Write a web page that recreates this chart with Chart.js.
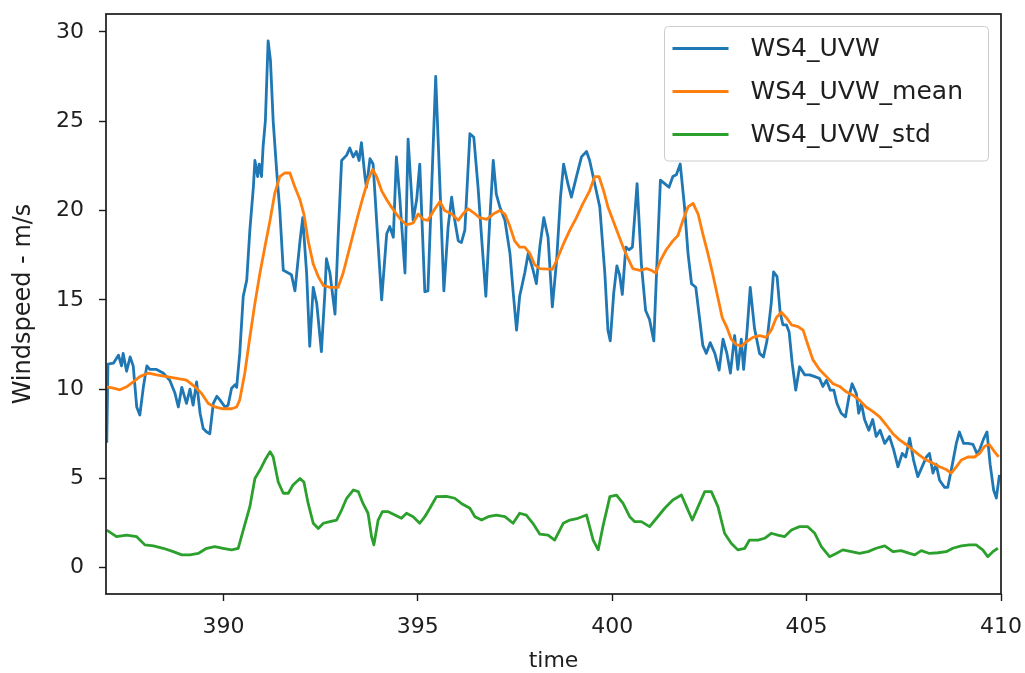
<!DOCTYPE html>
<html>
<head>
<meta charset="utf-8">
<script src="https://cdn.jsdelivr.net/npm/chart.js@4.4.0/dist/chart.umd.min.js"></script>
<style>
  html, body { margin: 0; padding: 0; background: #fff; }
  #wrap { width: 1025px; height: 673px; }
</style>
</head>
<body>
<div id="wrap"><canvas id="windChart" width="1025" height="673"></canvas></div>
<script>
// wind speed samples, [time, m/s]
const uvwSamples = [
  [387.00,7.0],[387.03,11.4],[387.17,11.45],[387.30,11.9],[387.38,11.3],[387.42,12.0],[387.51,11.0],[387.60,11.8],[387.68,11.3],[387.77,9.0],
  [387.85,8.55],[387.94,10.1],[388.03,11.3],[388.11,11.1],[388.28,11.1],[388.45,10.9],[388.62,10.5],[388.75,9.8],[388.84,9.0],[388.93,10.1],
  [389.05,9.2],[389.14,10.0],[389.22,9.1],[389.31,10.4],[389.40,8.65],[389.48,7.8],[389.57,7.6],[389.65,7.5],[389.74,9.2],[389.83,9.6],
  [389.91,9.4],[390.04,9.0],[390.12,9.1],[390.21,10.05],[390.30,10.25],[390.34,10.1],[390.42,12.0],[390.51,15.2],[390.60,16.1],[390.68,18.9],
  [390.77,21.3],[390.81,22.8],[390.88,21.9],[390.92,22.6],[390.98,21.9],[391.02,23.55],[391.08,25.05],[391.15,29.5],[391.21,28.4],[391.28,25.0],
  [391.37,22.2],[391.45,20.0],[391.54,16.65],[391.67,16.5],[391.75,16.4],[391.84,15.5],[391.97,18.3],[392.04,19.6],[392.14,16.5],[392.22,12.4],
  [392.31,15.7],[392.40,14.8],[392.52,12.1],[392.61,15.4],[392.65,17.3],[392.74,16.5],[392.87,14.2],[392.95,18.5],[393.04,22.8],[393.17,23.1],
  [393.25,23.5],[393.34,23.0],[393.42,23.3],[393.49,22.8],[393.55,23.8],[393.64,21.9],[393.68,21.3],[393.77,22.9],[393.85,22.6],[393.94,19.45],
  [394.07,15.0],[394.20,18.7],[394.28,19.1],[394.37,18.5],[394.45,23.0],[394.54,20.6],[394.67,16.5],[394.75,24.0],[394.88,19.45],[394.97,20.6],
  [395.05,22.6],[395.18,15.45],[395.26,15.5],[395.35,20.9],[395.46,27.5],[395.57,21.3],[395.67,15.5],[395.78,19.1],[395.87,20.75],[395.95,19.45],
  [396.04,18.3],[396.12,18.2],[396.21,18.9],[396.34,24.3],[396.44,24.1],[396.55,21.3],[396.64,18.5],[396.75,15.2],[396.85,19.45],[396.94,22.8],
  [397.02,20.9],[397.11,20.2],[397.24,19.45],[397.37,17.6],[397.45,15.5],[397.54,13.3],[397.62,15.2],[397.75,16.5],[397.84,17.6],[397.96,16.7],
  [398.05,15.9],[398.14,18.0],[398.24,19.6],[398.35,18.5],[398.46,14.6],[398.57,17.2],[398.67,20.75],[398.75,22.6],[398.86,21.5],[398.95,20.75],
  [399.08,21.9],[399.21,23.0],[399.34,23.3],[399.42,22.8],[399.55,21.5],[399.68,20.2],[399.81,16.5],[399.89,13.3],[399.95,12.7],[400.04,15.4],
  [400.12,16.9],[400.19,16.4],[400.26,15.3],[400.35,17.95],[400.43,17.8],[400.52,17.95],[400.64,21.5],[400.75,17.0],[400.86,14.4],[400.96,13.9],
  [401.07,12.7],[401.14,16.5],[401.24,21.7],[401.35,21.5],[401.46,21.3],[401.56,21.9],[401.65,22.0],[401.75,22.6],[401.86,20.2],[401.95,17.6],
  [402.04,15.9],[402.15,15.7],[402.25,13.9],[402.33,12.45],[402.42,12.0],[402.52,12.6],[402.64,12.0],[402.75,11.06],[402.85,12.8],[402.95,12.0],
  [403.04,10.9],[403.15,13.0],[403.23,11.1],[403.32,12.8],[403.38,11.1],[403.47,13.3],[403.55,15.7],[403.66,13.4],[403.79,12.0],[403.89,11.8],
  [403.98,12.7],[404.09,14.8],[404.15,16.56],[404.24,16.3],[404.32,14.3],[404.39,13.6],[404.48,13.6],[404.55,13.2],[404.63,11.44],[404.72,9.94],
  [404.82,11.25],[404.95,10.8],[405.08,10.8],[405.21,10.7],[405.33,10.6],[405.42,10.15],[405.51,10.5],[405.61,9.94],[405.70,9.94],[405.78,9.2],
  [405.89,8.65],[406.00,8.45],[406.09,9.57],[406.17,10.3],[406.28,9.75],[406.34,8.65],[406.41,9.2],[406.49,8.3],[406.60,7.7],[406.70,8.3],
  [406.79,7.35],[406.89,7.7],[407.01,6.96],[407.13,7.35],[407.24,6.6],[407.35,5.65],[407.46,6.4],[407.55,6.2],[407.65,7.25],[407.75,6.03],
  [407.86,5.1],[407.97,5.65],[408.08,6.2],[408.16,6.4],[408.25,5.3],[408.33,5.8],[408.42,4.9],[408.55,4.5],[408.63,4.5],[408.75,5.8],
  [408.85,6.96],[408.93,7.6],[409.04,6.96],[409.15,6.96],[409.28,6.9],[409.38,6.4],[409.45,6.6],[409.55,7.2],[409.64,7.6],[409.72,5.8],
  [409.81,4.35],[409.88,3.9],[409.96,5.2]
];

// rolling mean
const meanSamples = [
  [386.98,10.13],[387.17,10.05],[387.34,9.96],[387.51,10.13],[387.68,10.4],[387.85,10.7],[388.07,10.9],[388.28,10.8],[388.54,10.7],[388.80,10.6],
  [389.05,10.5],[389.27,10.13],[389.44,9.76],[389.61,9.2],[389.78,9.0],[389.99,8.9],[390.21,8.9],[390.34,9.0],[390.42,9.4],[390.55,10.9],
  [390.68,12.9],[390.81,14.8],[390.94,16.5],[391.07,18.0],[391.20,19.45],[391.32,20.95],[391.45,21.9],[391.58,22.1],[391.71,22.1],[391.84,21.3],
  [391.97,20.6],[392.07,19.8],[392.18,18.3],[392.31,17.0],[392.44,16.3],[392.57,15.8],[392.74,15.7],[392.95,15.7],[393.08,16.5],[393.21,17.6],
  [393.34,18.7],[393.47,19.8],[393.59,20.75],[393.72,21.7],[393.84,22.3],[393.94,21.9],[394.07,21.1],[394.20,20.6],[394.32,20.2],[394.45,19.8],
  [394.58,19.45],[394.71,19.2],[394.88,19.3],[395.01,19.8],[395.14,19.5],[395.26,19.45],[395.44,20.1],[395.57,20.5],[395.69,20.0],[395.87,19.8],
  [396.04,19.45],[396.16,19.8],[396.29,20.1],[396.42,19.9],[396.59,19.6],[396.77,19.5],[396.94,19.8],[397.11,20.0],[397.24,19.8],[397.37,19.1],
  [397.49,18.3],[397.62,17.95],[397.75,17.95],[397.88,17.6],[398.01,16.95],[398.14,16.75],[398.46,16.7],[398.57,17.2],[398.74,18.1],[398.91,18.9],
  [399.08,19.6],[399.25,20.4],[399.42,21.1],[399.55,21.9],[399.66,21.9],[399.78,21.1],[399.89,20.2],[400.02,19.45],[400.15,18.7],[400.28,17.95],
  [400.41,17.3],[400.53,16.75],[400.71,16.65],[400.88,16.75],[401.01,16.65],[401.12,16.5],[401.24,17.2],[401.39,17.8],[401.56,18.3],[401.69,18.6],
  [401.82,19.45],[401.95,20.2],[402.08,20.4],[402.21,19.8],[402.33,18.7],[402.46,17.6],[402.59,16.4],[402.72,15.1],[402.83,14.0],[402.94,13.5],
  [403.06,12.8],[403.19,12.5],[403.32,12.4],[403.45,12.65],[403.62,12.9],[403.79,13.0],[403.96,12.9],[404.09,13.3],[404.22,14.0],[404.35,14.3],
  [404.48,14.0],[404.61,13.6],[404.78,13.5],[404.91,13.3],[405.03,12.5],[405.16,11.65],[405.33,11.1],[405.51,10.7],[405.68,10.3],[405.85,10.15],
  [406.02,9.85],[406.19,9.66],[406.36,9.38],[406.53,9.0],[406.70,8.75],[406.88,8.45],[407.05,7.99],[407.22,7.5],[407.39,7.16],[407.56,6.9],
  [407.73,6.6],[407.90,6.3],[408.08,6.03],[408.25,5.85],[408.42,5.65],[408.59,5.5],[408.72,5.3],[408.85,5.65],[408.98,6.03],[409.15,6.2],
  [409.32,6.2],[409.45,6.4],[409.58,6.8],[409.70,6.9],[409.83,6.5],[409.94,6.2]
];

// rolling standard deviation
const stdSamples = [
  [387.00,2.11],[387.25,1.74],[387.51,1.83],[387.77,1.74],[387.98,1.28],[388.20,1.22],[388.45,1.09],[388.71,0.9],[388.93,0.72],[389.14,0.72],
  [389.35,0.8],[389.57,1.09],[389.78,1.18],[389.99,1.09],[390.21,1.0],[390.38,1.09],[390.51,2.11],[390.68,3.42],[390.81,5.0],[390.94,5.47],
  [391.07,6.03],[391.20,6.5],[391.28,6.2],[391.41,4.8],[391.54,4.17],[391.67,4.17],[391.79,4.63],[391.97,5.0],[392.07,4.8],[392.18,3.6],
  [392.31,2.49],[392.44,2.2],[392.57,2.49],[392.74,2.58],[392.91,2.67],[393.04,3.23],[393.17,3.89],[393.34,4.35],[393.47,4.26],[393.59,3.6],
  [393.72,3.05],[393.81,1.74],[393.87,1.28],[393.98,2.67],[394.09,3.14],[394.24,3.14],[394.41,2.95],[394.58,2.77],[394.71,3.05],[394.88,2.86],
  [395.05,2.49],[395.18,2.86],[395.31,3.33],[395.48,3.98],[395.74,4.0],[395.95,3.89],[396.12,3.6],[396.34,3.33],[396.47,2.86],[396.64,2.67],
  [396.81,2.86],[397.02,2.95],[397.24,2.86],[397.45,2.49],[397.62,3.05],[397.79,2.95],[397.96,2.49],[398.14,1.88],[398.35,1.83],[398.52,1.55],
  [398.74,2.49],[398.91,2.67],[399.12,2.77],[399.34,2.95],[399.51,1.55],[399.64,1.0],[399.76,2.3],[399.94,3.98],[400.11,4.07],[400.28,3.6],
  [400.45,2.86],[400.58,2.58],[400.75,2.58],[400.96,2.3],[401.14,2.77],[401.35,3.33],[401.56,3.79],[401.78,4.07],[401.91,3.42],[402.06,2.67],
  [402.21,3.42],[402.38,4.26],[402.55,4.26],[402.72,3.42],[402.89,1.93],[403.06,1.37],[403.23,1.0],[403.41,1.09],[403.53,1.55],[403.75,1.55],
  [403.92,1.65],[404.09,1.93],[404.26,1.83],[404.43,1.74],[404.61,2.11],[404.82,2.3],[405.03,2.3],[405.21,1.93],[405.38,1.18],[405.59,0.62],
  [405.76,0.8],[405.93,1.0],[406.15,0.9],[406.36,0.8],[406.58,0.9],[406.79,1.09],[407.01,1.22],[407.22,0.9],[407.43,0.96],[407.65,0.8],
  [407.78,0.72],[407.95,0.96],[408.16,0.8],[408.38,0.84],[408.59,0.9],[408.76,1.09],[408.98,1.22],[409.19,1.28],[409.36,1.28],[409.53,1.0],
  [409.66,0.62],[409.79,0.9],[409.92,1.09]
];

const seriesNames = ['WS4_UVW', 'WS4_UVW_mean', 'WS4_UVW_std'];
const seriesColors = ['#1f77b4', '#ff7f0e', '#2ca02c'];

const xTicks = [390, 395, 400, 405, 410];
const yTicks = [0, 5, 10, 15, 20, 25, 30];
const xRange = [386.98, 410];
const yRange = [-1.47, 31.0];

const FONT = 'DejaVu Sans';
const INK = '#1e1e1e';

// box around the plot area
const frame = {
  id: 'frame',
  afterDraw(chart) {
    const { ctx, chartArea: a } = chart;
    ctx.save();
    ctx.strokeStyle = '#1a1a1a';
    ctx.lineWidth = 1.7;
    ctx.strokeRect(a.left, a.top, a.right - a.left, a.bottom - a.top);
    ctx.restore();
  }
};

// legend drawn inside the upper right corner of the plot
const boxLegend = {
  id: 'boxLegend',
  afterDraw(chart) {
    const { ctx, chartArea: a } = chart;
    const x0 = a.right - 336.5, y0 = a.top + 12.5, w = 324, h = 134.5;
    ctx.save();
    ctx.beginPath();
    ctx.roundRect(x0, y0, w, h, 4);
    ctx.fillStyle = 'rgba(255,255,255,0.8)';
    ctx.fill();
    ctx.strokeStyle = '#cccccc';
    ctx.lineWidth = 1;
    ctx.stroke();

    ctx.font = '25px "' + FONT + '"';
    ctx.textBaseline = 'middle';
    ctx.textAlign = 'left';
    chart.data.datasets.forEach((ds, i) => {
      const y = y0 + 22 + i * 43;
      ctx.beginPath();
      ctx.moveTo(x0 + 8, y);
      ctx.lineTo(x0 + 64, y);
      ctx.strokeStyle = ds.borderColor;
      ctx.lineWidth = 2.8;
      ctx.stroke();
      ctx.fillStyle = INK;
      ctx.fillText(ds.label, x0 + 86, y + 1);
    });
    ctx.restore();
  }
};

const toPoints = rows => rows.map(([t, v]) => ({ x: t, y: v }));
const allSeries = [uvwSamples, meanSamples, stdSamples];

const datasets = allSeries.map((rows, i) => ({
  label: seriesNames[i],
  data: toPoints(rows),
  borderColor: seriesColors[i],
  backgroundColor: seriesColors[i],
  borderWidth: 2.8,
  borderJoinStyle: 'round',
  pointRadius: 0,
  tension: 0,
  fill: false,
  order: allSeries.length - i
}));

new Chart(document.getElementById('windChart'), {
  type: 'line',
  data: { datasets },
  options: {
    responsive: false,
    animation: false,
    events: [],
    layout: { padding: { top: 14, right: 24, bottom: 0, left: 0 } },
    plugins: { legend: { display: false }, tooltip: { enabled: false } },
    scales: {
      x: {
        type: 'linear',
        min: xRange[0],
        max: xRange[1],
        border: { display: false },
        grid: { drawOnChartArea: false, drawTicks: true, tickLength: 7, tickWidth: 1.4, tickColor: '#1a1a1a' },
        ticks: { color: INK, font: { family: FONT, size: 22 }, padding: 13, maxRotation: 0 },
        afterBuildTicks: s => { s.ticks = xTicks.map(v => ({ value: v })); },
        afterFit: s => { s.height = 79; s.paddingLeft = 0; s.paddingRight = 0; },
        title: { display: true, text: 'time', color: INK, font: { family: FONT, size: 22 }, padding: { top: 0, bottom: -1 } }
      },
      y: {
        type: 'linear',
        min: yRange[0],
        max: yRange[1],
        border: { display: false },
        grid: { drawOnChartArea: false, drawTicks: true, tickLength: 7, tickWidth: 1.4, tickColor: '#1a1a1a' },
        ticks: { color: INK, font: { family: FONT, size: 22 }, padding: 15 },
        afterBuildTicks: s => { s.ticks = yTicks.map(v => ({ value: v })); },
        afterFit: s => { s.width = 106; s.paddingTop = 0; s.paddingBottom = 0; },
        title: { display: true, text: 'Windspeed - m/s', color: INK, font: { family: FONT, size: 24 }, padding: { top: 9, bottom: 0 } }
      }
    }
  },
  plugins: [frame, boxLegend]
});
</script>
</body>
</html>
